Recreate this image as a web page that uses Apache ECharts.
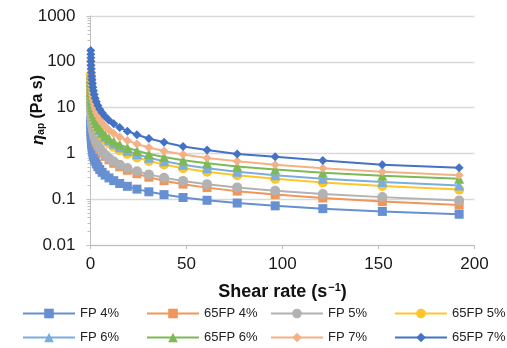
<!DOCTYPE html>
<html>
<head>
<meta charset="utf-8">
<script src="https://cdn.jsdelivr.net/npm/echarts@6/dist/echarts.min.js"></script>
<style>
  html, body { margin: 0; padding: 0; background: #fff; }
  #chart { width: 507px; height: 348px; }
</style>
</head>
<body>
<div id="chart"></div>
<script>
// Shear rate (1/s), log-spaced sweep
const shearRate = [0.121, 0.152, 0.192, 0.242, 0.304, 0.383, 0.482, 0.607, 0.764, 0.962,
  1.21, 1.52, 1.92, 2.42, 3.04, 3.83, 4.82, 6.07, 7.64, 9.62,
  12.1, 15.2, 19.2, 24.2, 30.4, 38.3, 48.2, 60.7, 76.4, 96.2, 121, 152, 192];

// Apparent viscosity (Pa s) for each formulation
const fp4 = [5.3, 4.3, 3.5, 2.9, 2.40, 2.08, 1.81, 1.57, 1.37, 1.19, 1.03, 0.897, 0.780, 0.678, 0.589, 0.512,
  0.445, 0.386, 0.336, 0.292, 0.254, 0.220, 0.191, 0.166, 0.145, 0.126, 0.109, 0.0948, 0.0824, 0.0716, 0.0622, 0.0541, 0.047];
const fp65_4 = [20.1, 16.9, 14.2, 11.9, 10.0, 8.39, 7.05, 5.92, 4.97, 4.17, 3.50, 2.94, 2.47, 2.07, 1.74, 1.46,
  1.22, 1.03, 0.863, 0.724, 0.608, 0.511, 0.429, 0.360, 0.302, 0.254, 0.213, 0.179, 0.150, 0.126, 0.106, 0.0887, 0.0745];
const fp5 = [17.6, 14.9, 12.7, 10.8, 9.14, 7.76, 6.59, 5.60, 4.75, 4.04, 3.43, 2.91, 2.47, 2.10, 1.78, 1.51,
  1.29, 1.09, 0.927, 0.787, 0.668, 0.568, 0.482, 0.409, 0.348, 0.295, 0.251, 0.213, 0.181, 0.153, 0.130, 0.111, 0.094];
const fp65_5 = [50.8, 42.5, 35.5, 29.6, 24.8, 20.7, 17.3, 14.5, 12.1, 10.1, 8.43, 7.05, 5.89, 4.92, 4.11, 3.44,
  2.87, 2.40, 2.00, 1.67, 1.40, 1.17, 0.977, 0.817, 0.682, 0.570, 0.476, 0.398, 0.333, 0.278, 0.232, 0.194, 0.162];
const fp6 = [53.6, 45.0, 37.8, 31.7, 26.6, 22.3, 18.7, 15.7, 13.2, 11.1, 9.31, 7.82, 6.56, 5.51, 4.62, 3.88,
  3.26, 2.74, 2.30, 1.93, 1.62, 1.36, 1.14, 0.957, 0.804, 0.675, 0.566, 0.475, 0.399, 0.335, 0.281, 0.236, 0.198];
const fp65_6 = [41.7, 35.6, 30.5, 26.1, 22.3, 19.1, 16.3, 13.9, 11.9, 10.2, 8.71, 7.45, 6.37, 5.45, 4.66, 3.98,
  3.40, 2.91, 2.49, 2.13, 1.82, 1.56, 1.33, 1.14, 0.973, 0.832, 0.711, 0.608, 0.520, 0.445, 0.380, 0.325, 0.278];
const fp7 = [105, 84, 68, 56, 46, 38.5, 32, 26.4, 22.2, 18.6, 15.6, 13.1, 11.0, 9.25, 7.76, 6.52,
  5.47, 4.59, 3.85, 3.24, 2.72, 2.28, 1.91, 1.61, 1.35, 1.13, 0.951, 0.798, 0.670, 0.562, 0.472, 0.396, 0.333];
const fp65_7 = [176, 147, 122, 101, 84.3, 70.1, 58.3, 48.5, 40.4, 33.6, 27.9, 23.2, 19.3, 16.1, 13.4, 11.1,
  9.25, 7.69, 6.40, 5.32, 4.43, 3.68, 3.06, 2.55, 2.12, 1.76, 1.42, 1.19, 0.97, 0.843, 0.701, 0.565, 0.485];

const seriesNames = ['FP 4%', '65FP 4%', 'FP 5%', '65FP 5%', 'FP 6%', '65FP 6%', 'FP 7%', '65FP 7%'];
const seriesValues = [fp4, fp65_4, fp5, fp65_5, fp6, fp65_6, fp7, fp65_7];

const xTicks = [0, 50, 100, 150, 200];
const yTicks = [0.01, 0.1, 1, 10, 100, 1000];
// minor tick marks on the log axis at 2..9 of each decade
const yMinor = [];
for (let d = 0; d < yTicks.length - 1; d++) {
  for (let m = 2; m <= 9; m++) yMinor.push(+(yTicks[d] * m).toPrecision(3));
}

const colors = ['#6690D2', '#F0965A', '#B2B2B2', '#FFC629', '#7AAEDF', '#7DB956', '#F4B183', '#4472C4'];
const symbols = ['rect', 'rect', 'circle', 'circle', 'triangle', 'triangle', 'diamond', 'diamond'];
const symbolSizes = [9, 9, 10, 10, 10, 10, 9, 9];

const FONT = '"Liberation Sans", Arial, Helvetica, sans-serif';
const AXIS_GREY = '#BFBFBF';

const legendCols = [22, 146, 270, 394];
const legendRows = [307, 331];

const chart = echarts.init(document.getElementById('chart'), null, { renderer: 'canvas' });

chart.setOption({
  animation: false,
  backgroundColor: '#fff',
  textStyle: { fontFamily: FONT },
  grid: { left: 90.5, right: 32.5, top: 16, bottom: 103, containLabel: false },
  legend: seriesNames.map((n, i) => ({
    data: [n],
    left: legendCols[i % 4],
    top: legendRows[Math.floor(i / 4)],
    padding: 0,
    itemWidth: 52,
    itemHeight: 12,
    selectedMode: false,
    textStyle: { fontSize: 13, color: '#222', fontFamily: FONT }
  })),
  xAxis: {
    type: 'value',
    min: xTicks[0],
    max: xTicks[xTicks.length - 1],
    interval: 50,
    axisLine: { lineStyle: { color: AXIS_GREY, width: 1 } },
    axisTick: { show: true, length: 4, inside: false, lineStyle: { color: AXIS_GREY } },
    splitLine: { show: false },
    axisLabel: { fontSize: 17, color: '#1a1a1a', margin: 11, fontFamily: FONT },
    name: '{b|Shear rate (s}{sup|\u22121}{b|)}',
    nameLocation: 'middle',
    nameGap: 37,
    nameTextStyle: {
      rich: {
        b: { fontSize: 18, fontWeight: 'bold', color: '#111', fontFamily: FONT },
        sup: { fontSize: 11, fontWeight: 'bold', color: '#111', fontFamily: FONT, padding: [0, 0, 9, 1] }
      }
    }
  },
  yAxis: [{
    type: 'log',
    logBase: 10,
    min: yTicks[0],
    max: yTicks[yTicks.length - 1],
    axisLine: { show: true, lineStyle: { color: AXIS_GREY, width: 1 } },
    axisTick: { show: true, length: 4, lineStyle: { color: AXIS_GREY } },
    splitLine: { show: true, lineStyle: { color: '#D9D9D9', width: 1.3 } },
    axisLabel: {
      fontSize: 17, color: '#1a1a1a', margin: 15, fontFamily: FONT,
      formatter: (v) => String(+Number(v).toPrecision(6))
    }
  }, {
    type: 'log',
    logBase: 10,
    min: yTicks[0],
    max: yTicks[yTicks.length - 1],
    position: 'left',
    axisLine: { show: false },
    axisTick: { show: true, length: 3, customValues: yMinor, lineStyle: { color: AXIS_GREY } },
    splitLine: { show: false },
    axisLabel: { show: false }
  }],
  graphic: [{
    type: 'text',
    x: 38,
    y: 110,
    rotation: Math.PI / 2,
    style: {
      text: '{i|\u03b7}{sub|ap}{b| (Pa s)}',
      align: 'center',
      verticalAlign: 'middle',
      rich: {
        i: { fontSize: 17, fontWeight: 'bold', fontStyle: 'italic', fill: '#111', fontFamily: FONT },
        sub: { fontSize: 10, fontWeight: 'bold', fill: '#111', fontFamily: FONT, padding: [7, 0, 0, 0] },
        b: { fontSize: 16, fontWeight: 'bold', fill: '#111', fontFamily: FONT }
      }
    }
  }],
  series: seriesNames.map((n, i) => ({
    name: n,
    type: 'line',
    yAxisIndex: 0,
    data: shearRate.map((x, j) => [x, seriesValues[i][j]]),
    symbol: symbols[i],
    symbolSize: symbolSizes[i],
    showSymbol: true,
    showAllSymbol: true,
    color: colors[i],
    lineStyle: { color: colors[i], width: 2 },
    itemStyle: { color: colors[i] },
    z: 2 + i
  }))
});
</script>
</body>
</html>
